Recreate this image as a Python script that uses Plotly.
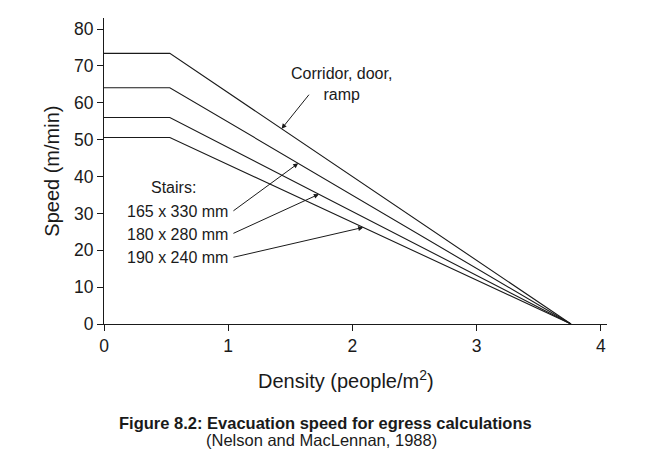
import plotly.graph_objects as go

# Data
series_names = ["Corridor, door, ramp", "Stairs 165 x 330 mm", "Stairs 180 x 280 mm", "Stairs 190 x 240 mm"]
max_speeds = [73.4, 64.1, 56.0, 50.6]          # m/min
knee_density = 0.53                             # people/m2
jam_density = 3.76                              # people/m2
x_ticks = [0, 1, 2, 3, 4]
y_ticks = [0, 10, 20, 30, 40, 50, 60, 70, 80]

FONT = "Liberation Sans, Arial, Helvetica, sans-serif"
INK = "#1a1a1a"

fig = go.Figure()
for name, v in zip(series_names, max_speeds):
    fig.add_trace(go.Scatter(
        x=[0, knee_density, jam_density], y=[v, v, 0],
        mode="lines", name=name, line=dict(color=INK, width=1.1),
        showlegend=False, hoverinfo="skip"))

def slope_y(v, x):
    return v * (jam_density - x) / (jam_density - knee_density)

annotations = []
# Corridor label
annotations.append(dict(x=1.915, y=59.5, xref="x", yref="y", text="Corridor, door,<br>ramp",
                        showarrow=False, font=dict(family=FONT, size=16, color=INK),
                        xanchor="center", yanchor="bottom", align="center"))
# Corridor arrow
annotations.append(dict(x=1.43, y=slope_y(max_speeds[0], 1.43), ax=1.66, ay=62.6,
                        xref="x", yref="y", axref="x", ayref="y", text="",
                        showarrow=True, arrowhead=2, arrowsize=1, arrowwidth=1, arrowcolor=INK))
# Stairs labels
annotations.append(dict(x=0.56, y=37.0, xref="x", yref="y", text="Stairs:", showarrow=False,
                        font=dict(family=FONT, size=16, color=INK), xanchor="center", yanchor="middle"))
stair_labels = ["165 x 330 mm", "180 x 280 mm", "190 x 240 mm"]
label_y = [30.4, 24.4, 18.0]
head_x = [1.564, 1.73, 2.087]
for lab, ly, hx, v in zip(stair_labels, label_y, head_x, max_speeds[1:]):
    annotations.append(dict(x=0.589, y=ly, xref="x", yref="y", text=lab, showarrow=False,
                            font=dict(family=FONT, size=16, color=INK), xanchor="center", yanchor="middle"))
    annotations.append(dict(x=hx, y=slope_y(v, hx), ax=1.03, ay=ly, xref="x", yref="y",
                            axref="x", ayref="y", text="", showarrow=True, arrowhead=2,
                            arrowsize=1, arrowwidth=1, arrowcolor=INK))
# Axis titles
annotations.append(dict(x=0.481, y=-0.18, xref="paper", yref="paper",
                        text="Density (people/m<sup>2</sup>)", showarrow=False,
                        font=dict(family=FONT, size=20, color=INK), xanchor="center", yanchor="middle"))
annotations.append(dict(x=-0.104, y=0.5, xref="paper", yref="paper", text="Speed (m/min)",
                        textangle=-90, showarrow=False, font=dict(family=FONT, size=20, color=INK),
                        xanchor="center", yanchor="middle"))
# Caption
annotations.append(dict(x=0.44, y=-0.3225, xref="paper", yref="paper",
                        text="<b>Figure 8.2: Evacuation speed for egress calculations</b>",
                        showarrow=False, font=dict(family=FONT, size=16.5, color=INK),
                        xanchor="center", yanchor="middle"))
annotations.append(dict(x=0.433, y=-0.378, xref="paper", yref="paper",
                        text="(Nelson and MacLennan, 1988)", showarrow=False,
                        font=dict(family=FONT, size=16.5, color=INK), xanchor="center", yanchor="middle"))

fig.update_layout(
    width=638, height=463,
    margin=dict(l=96, r=39, t=10, b=147),
    paper_bgcolor="white", plot_bgcolor="white",
    font=dict(family=FONT, size=16, color=INK),
    annotations=annotations,
    xaxis=dict(range=[0, 4.05], tickvals=x_ticks, ticks="outside", ticklen=6, tickwidth=1,
               tickcolor=INK, showline=True, linecolor=INK, linewidth=1, showgrid=False,
               zeroline=False, tickfont=dict(family=FONT, size=17.5, color=INK)),
    yaxis=dict(range=[0, 83], tickvals=y_ticks, ticks="outside", ticklen=6, tickwidth=1,
               tickcolor=INK, showline=True, linecolor=INK, linewidth=1, showgrid=False,
               zeroline=False, tickfont=dict(family=FONT, size=17.5, color=INK)),
)

fig.write_html("out.html")
